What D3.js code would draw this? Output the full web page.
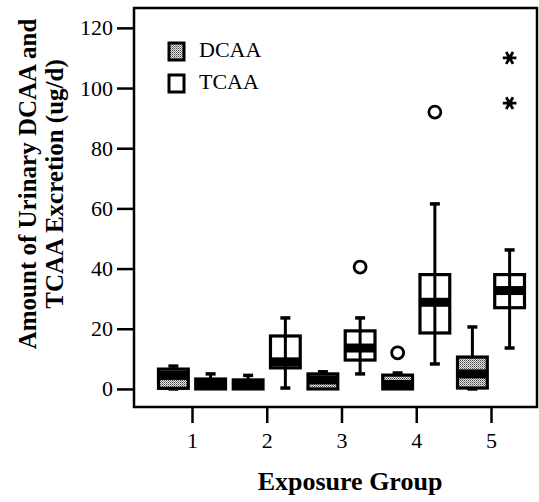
<!DOCTYPE html>
<html>
<head>
<meta charset="utf-8">
<script src="https://cdn.jsdelivr.net/npm/d3@7"></script>
<style>
  body { margin: 0; background: #fff; }
  text { font-family: "Liberation Serif", "Times New Roman", serif; fill: #000; }
</style>
</head>
<body>
<div id="root"></div>
<script>
const SVG_WIDTH = 539;
const SVG_HEIGHT = 502;

// data
const groups = [1, 2, 3, 4, 5];
const series = ['DCAA', 'TCAA'];
const yTicks = [0, 20, 40, 60, 80, 100, 120];

const dcaaLow = [0, 0, 0, 0, 0];
const dcaaQ1 = [0.2, 0, 0, 0, 0.3];
const dcaaMedian = [4.5, 1.2, 3, 1.5, 5];
const dcaaQ3 = [6.6, 3, 5, 4.6, 10.6];
const dcaaHigh = [7.6, 4.5, 5.7, 5.3, 20.6];

const tcaaLow = [0, 0.3, 5, 8.3, 13.6];
const tcaaQ1 = [0, 7, 9.6, 18.6, 27];
const tcaaMedian = [1.5, 9, 13.6, 28.8, 32.7];
const tcaaQ3 = [3.3, 17.6, 19.3, 38, 38];
const tcaaHigh = [5, 23.6, 23.6, 61.5, 46.2];

const outlierGroup = [4, 3, 4];
const outlierSeries = ['DCAA', 'TCAA', 'TCAA'];
const outlierValue = [12, 40.5, 92];

const extremeGroup = [5, 5];
const extremeSeries = ['TCAA', 'TCAA'];
const extremeValue = [110, 95];

const margin = { left: 134, top: 8, right: 2, bottom: 95 };

/**
 * svg container
 */
function addSvg() {
  const svg = document.createElementNS('http://www.w3.org/2000/svg', 'svg');
  svg.id = 'svg';
  svg.setAttribute('width', SVG_WIDTH);
  svg.setAttribute('height', SVG_HEIGHT);
  return svg;
}

function main() {
  const svg = d3.select('#svg');
  const x0 = margin.left;
  const x1 = SVG_WIDTH - margin.right;
  const y0 = margin.top;
  const y1 = SVG_HEIGHT - margin.bottom;

  const xScale = d3.scalePoint().domain(groups).range([192, 491]);
  const xSub = d3.scaleBand().domain(series).range([-33.5, 33.5]).paddingInner(0.2);
  const yScale = d3.scaleLinear().domain([-6, 126.6]).range([y1, y0]);

  // gray dotted fill for DCAA
  const pat = svg.append('defs').append('pattern')
    .attr('id', 'hatch').attr('width', 2).attr('height', 2)
    .attr('patternUnits', 'userSpaceOnUse');
  pat.append('rect').attr('width', 2).attr('height', 2).attr('fill', '#e8e8e8');
  pat.append('rect').attr('x', 0).attr('y', 0).attr('width', 1).attr('height', 1).attr('fill', '#444');
  pat.append('rect').attr('x', 1).attr('y', 1).attr('width', 1).attr('height', 1).attr('fill', '#888');

  const boxes = [];
  groups.forEach((g, i) => {
    boxes.push({ g, s: 'DCAA', low: dcaaLow[i], q1: dcaaQ1[i], med: dcaaMedian[i], q3: dcaaQ3[i], high: dcaaHigh[i] });
    boxes.push({ g, s: 'TCAA', low: tcaaLow[i], q1: tcaaQ1[i], med: tcaaMedian[i], q3: tcaaQ3[i], high: tcaaHigh[i] });
  });

  const bw = xSub.bandwidth();
  const cx = (d) => xScale(d.g) + xSub(d.s) + bw / 2;
  const capW = 10;

  const gBox = svg.append('g');
  boxes.forEach((d) => {
    const c = cx(d);
    const g = gBox.append('g');
    // upper whisker + cap
    g.append('line').attr('x1', c).attr('x2', c)
      .attr('y1', yScale(d.q3)).attr('y2', yScale(d.high))
      .attr('stroke', '#000').attr('stroke-width', 3);
    g.append('line').attr('x1', c - capW / 2).attr('x2', c + capW / 2)
      .attr('y1', yScale(d.high)).attr('y2', yScale(d.high))
      .attr('stroke', '#000').attr('stroke-width', 3.5);
    if (d.low < d.q1) {
      g.append('line').attr('x1', c).attr('x2', c)
        .attr('y1', yScale(d.q1)).attr('y2', yScale(d.low))
        .attr('stroke', '#000').attr('stroke-width', 3);
      g.append('line').attr('x1', c - capW / 2).attr('x2', c + capW / 2)
        .attr('y1', yScale(d.low)).attr('y2', yScale(d.low))
        .attr('stroke', '#000').attr('stroke-width', 3.5);
    }
    // box
    g.append('rect')
      .attr('x', c - bw / 2).attr('width', bw)
      .attr('y', yScale(d.q3)).attr('height', yScale(d.q1) - yScale(d.q3))
      .attr('fill', d.s === 'DCAA' ? 'url(#hatch)' : '#fff')
      .attr('stroke', '#000').attr('stroke-width', 3.2);
    // whisker line visible through TCAA boxes
    if (d.s === 'TCAA') {
      g.append('line').attr('x1', c).attr('x2', c)
        .attr('y1', yScale(d.q1)).attr('y2', yScale(d.q3))
        .attr('stroke', '#000').attr('stroke-width', 3);
    }
    // thick median band, kept inside the box
    const mTop = Math.max(yScale(d.med) - 4.5, yScale(d.q3));
    const mBot = Math.min(yScale(d.med) + 4.5, yScale(d.q1));
    g.append('rect')
      .attr('x', c - bw / 2).attr('width', bw)
      .attr('y', mTop).attr('height', Math.max(0, mBot - mTop))
      .attr('fill', '#000');
  });

  // outliers (circles)
  svg.append('g').selectAll('circle')
    .data(outlierValue.map((v, i) => ({ g: outlierGroup[i], s: outlierSeries[i], v })))
    .join('circle')
    .attr('cx', (d) => cx(d))
    .attr('cy', (d) => yScale(d.v))
    .attr('r', 6)
    .attr('fill', 'none')
    .attr('stroke', '#000')
    .attr('stroke-width', 2.8);

  // extremes (asterisks)
  svg.append('g').selectAll('path')
    .data(extremeValue.map((v, i) => ({ g: extremeGroup[i], s: extremeSeries[i], v })))
    .join('path')
    .attr('d', d3.symbol(d3.symbolAsterisk, 130))
    .attr('transform', (d) => `translate(${cx(d)},${yScale(d.v)}) rotate(90)`)
    .attr('fill', 'none')
    .attr('stroke', '#000')
    .attr('stroke-width', 2.8);

  // frame
  svg.append('rect')
    .attr('x', x0).attr('y', y0)
    .attr('width', x1 - x0).attr('height', y1 - y0)
    .attr('fill', 'none').attr('stroke', '#000').attr('stroke-width', 2.5);

  // y axis
  const yAxis = svg.append('g')
    .attr('transform', `translate(${x0},0)`)
    .call(d3.axisLeft(yScale).tickValues(yTicks).tickSize(17).tickPadding(4));
  yAxis.select('.domain').remove();
  yAxis.selectAll('line').attr('stroke-width', 2.5);
  yAxis.selectAll('text').style('font-size', '22px').style('font-family', '"Liberation Serif", serif');

  // x axis
  const xAxis = svg.append('g')
    .attr('transform', `translate(0,${y1})`)
    .call(d3.axisBottom(xScale).tickSize(16).tickPadding(9));
  xAxis.select('.domain').remove();
  xAxis.selectAll('line').attr('stroke-width', 2.5);
  xAxis.selectAll('text').style('font-size', '22px').style('font-family', '"Liberation Serif", serif');

  // axis titles
  svg.append('text')
    .attr('x', 350).attr('y', 490)
    .attr('text-anchor', 'middle')
    .style('font-size', '26px').style('font-weight', 'bold')
    .text('Exposure Group');

  const yt = svg.append('text')
    .attr('transform', 'translate(0,184) rotate(-90)')
    .attr('text-anchor', 'middle')
    .style('font-size', '25px').style('font-weight', 'bold');
  yt.append('tspan').attr('x', 0).attr('y', 36).text('Amount of Urinary DCAA and');
  yt.append('tspan').attr('x', 0).attr('y', 63).text('TCAA Excretion (ug/d)');

  // legend
  const legend = svg.append('g');
  series.forEach((s, i) => {
    const ly = 51 + i * 32;
    legend.append('rect')
      .attr('x', 169).attr('y', ly - 8).attr('width', 15).attr('height', 17)
      .attr('fill', s === 'DCAA' ? 'url(#hatch)' : '#fff')
      .attr('stroke', '#000').attr('stroke-width', 3);
    legend.append('text')
      .attr('x', 199).attr('y', ly + 6)
      .style('font-size', '22px')
      .text(s);
  });
}

const root = document.getElementById('root');
root.appendChild(addSvg());
main();
</script>
</body>
</html>
